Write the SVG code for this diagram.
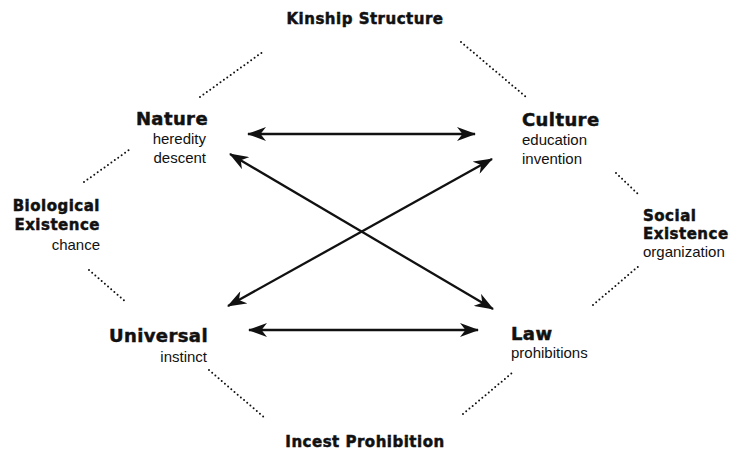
<svg xmlns="http://www.w3.org/2000/svg" width="730" height="454" viewBox="0 0 730 454">
<style>
.h{font-family:"DejaVu Sans","Liberation Sans",sans-serif;font-weight:bold;fill:#111;stroke:#111;stroke-width:0.5;}
.big{font-size:18px;letter-spacing:0.4px;}
.mid{font-size:15px;letter-spacing:0.5px;}
.s{font-family:"Liberation Sans","Noto Sans",sans-serif;font-size:15px;fill:#111;}
.arr{stroke:#111;stroke-width:2.3;fill:none;marker-start:url(#ah);marker-end:url(#ah);}
.dot{stroke:#111;stroke-width:2;stroke-linecap:round;stroke-dasharray:0 4.2;fill:none;}
</style>
<defs>
<marker id="ah" viewBox="0 0 19 14" refX="18" refY="7" markerWidth="19" markerHeight="14" markerUnits="userSpaceOnUse" orient="auto-start-reverse">
<path d="M0,0 L19,7 L0,14 L5.5,7 Z" fill="#111"/>
</marker>
</defs>
<rect width="730" height="454" fill="#fff"/>
<g id="connectors">
<line class="arr" x1="248" y1="134" x2="475" y2="134"/>
<line class="arr" x1="249" y1="330" x2="478" y2="330"/>
<line class="arr" x1="230" y1="154" x2="493" y2="309"/>
<line class="arr" x1="228" y1="306" x2="492" y2="159"/>
<line class="dot" x1="200" y1="97" x2="264" y2="51"/>
<line class="dot" x1="461" y1="42" x2="526" y2="97"/>
<line class="dot" x1="84" y1="182" x2="129" y2="150"/>
<line class="dot" x1="616" y1="173" x2="639" y2="195"/>
<line class="dot" x1="89" y1="270" x2="127" y2="303"/>
<line class="dot" x1="209" y1="370" x2="266" y2="419"/>
<line class="dot" x1="593" y1="305" x2="640" y2="265"/>
<line class="dot" x1="463" y1="414" x2="512" y2="373"/>
</g>
<g id="kinship">
<text class="h mid" x="365" y="24" text-anchor="middle">Kinship Structure</text>
</g>
<g id="nature">
<text class="h big" x="208" y="125" text-anchor="end">Nature</text>
<text class="s" x="206" y="144" text-anchor="end">heredity</text>
<text class="s" x="206" y="163" text-anchor="end">descent</text>
</g>
<g id="culture">
<text class="h big" x="522" y="126">Culture</text>
<text class="s" x="522" y="145">education</text>
<text class="s" x="522" y="164">invention</text>
</g>
<g id="biological">
<text class="h mid" x="100" y="211" text-anchor="end">Biological</text>
<text class="h mid" x="100" y="230" text-anchor="end">Existence</text>
<text class="s" x="100" y="250" text-anchor="end">chance</text>
</g>
<g id="social">
<text class="h mid" x="643" y="221">Social</text>
<text class="h mid" x="643" y="239">Existence</text>
<text class="s" x="643" y="257">organization</text>
</g>
<g id="universal">
<text class="h big" x="208" y="342" text-anchor="end">Universal</text>
<text class="s" x="207" y="362" text-anchor="end">instinct</text>
</g>
<g id="law">
<text class="h big" x="511" y="340">Law</text>
<text class="s" x="511" y="358">prohibitions</text>
</g>
<g id="incest">
<text class="h mid" x="365" y="447" text-anchor="middle">Incest Prohibition</text>
</g>
</svg>
